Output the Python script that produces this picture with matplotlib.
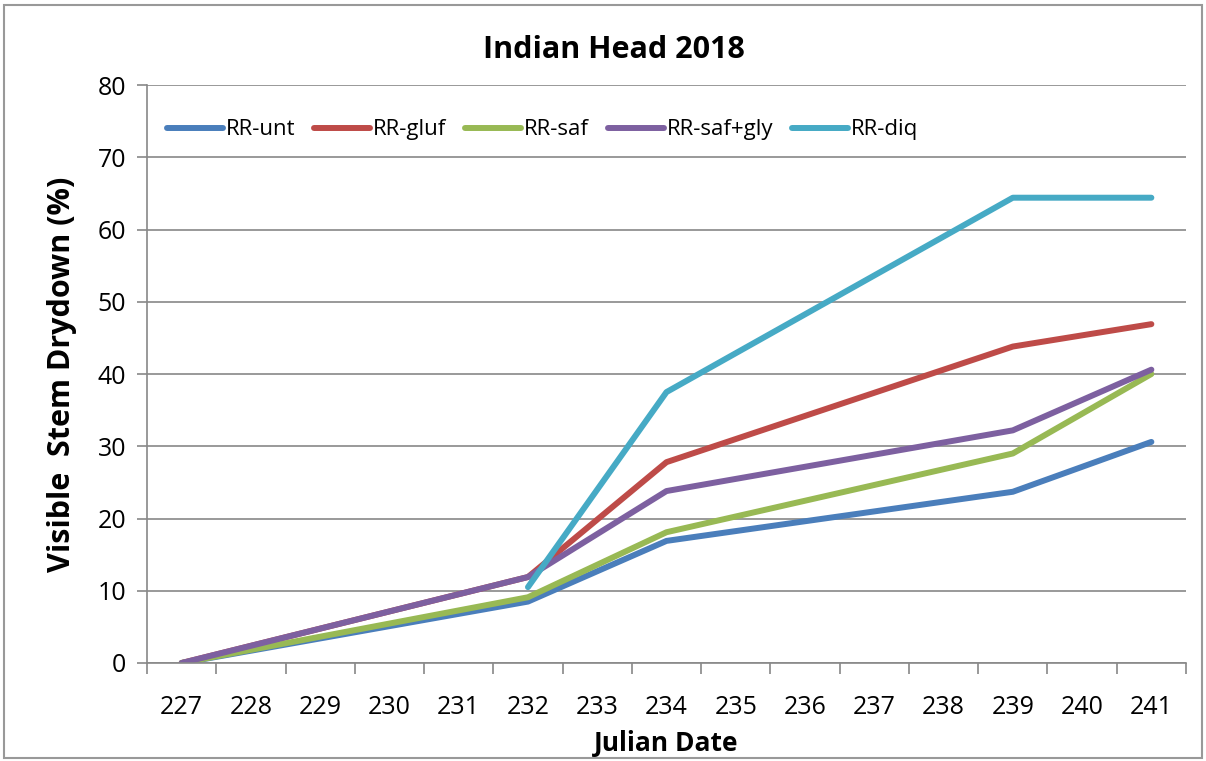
import matplotlib.pyplot as plt
from matplotlib.patches import Rectangle
import numpy as np

# Julian dates on the category axis
days = ['227', '228', '229', '230', '231', '232', '233', '234', '235',
        '236', '237', '238', '239', '240', '241']
# days where ratings were taken
rated_days = ['227', '232', '234', '239', '241']

rr_unt = [0, 8.5, 16.9, 23.7, 30.6]
rr_gluf = [0, 11.9, 27.8, 43.8, 46.9]
rr_saf = [0, 9.1, 18.1, 29.0, 40.0]
rr_saf_gly = [0, 11.9, 23.8, 32.2, 40.6]
rr_diq = [None, 10.5, 37.5, 64.4, 64.4]

series = [
    ('RR-unt', rr_unt, '#4A7EBB'),
    ('RR-gluf', rr_gluf, '#BE4B48'),
    ('RR-saf', rr_saf, '#98B954'),
    ('RR-saf+gly', rr_saf_gly, '#7D60A0'),
    ('RR-diq', rr_diq, '#46AAC5'),
]

plt.rcParams['font.family'] = ['Open Sans', 'DejaVu Sans']

fig = plt.figure(figsize=(12.06, 7.61), dpi=100)
ax = fig.add_axes([147 / 1206, 1 - 663 / 761, (1186 - 147) / 1206, (663 - 85) / 761])

pos = {d: i for i, d in enumerate(days)}
for name, vals, col in series:
    xs = [pos[d] for d, v in zip(rated_days, vals) if v is not None]
    ys = [v for v in vals if v is not None]
    ax.plot(xs, ys, color=col, lw=4.3, label=name, solid_capstyle='round',
            solid_joinstyle='round')

ax.set_xlim(-0.5, len(days) - 0.5)
ax.set_ylim(0, 80)
ax.set_yticks(range(0, 81, 10))
ax.set_xticks(range(len(days)))
ax.set_xticklabels(days)
ax.set_xticks(np.arange(-0.5, len(days), 1), minor=True)
ax.tick_params(axis='x', which='major', length=0, labelsize=18, pad=23)
ax.tick_params(axis='x', which='minor', length=8, color='#888888', width=1.2)
ax.tick_params(axis='y', length=7, color='#888888', width=1.2, labelsize=18, pad=8)

ax.grid(axis='y', color='#888888', lw=1.2)
ax.set_axisbelow(True)
for s in ['top', 'right']:
    ax.spines[s].set_visible(False)
for s in ['left', 'bottom']:
    ax.spines[s].set_color('#888888')
    ax.spines[s].set_linewidth(1.2)

fig.text(614 / 1206, 1 - 50 / 761, 'Indian Head 2018', fontsize=22,
         fontweight='bold', ha='center', va='center')
ax.set_xlabel('Julian Date', fontsize=19, fontweight='bold', labelpad=7)
ax.set_ylabel('Visible  Stem Drydown (%)', fontsize=22, fontweight='bold', labelpad=15)

ax.legend(loc='upper left', bbox_to_anchor=(0.0, 0.975), ncol=5, frameon=False,
          fontsize=16, handlelength=2.5, handletextpad=0.15, columnspacing=0.85)

# chart border
fig.patches.append(Rectangle((4 / 1206, 3 / 761), 1198 / 1206, 753 / 761,
                             transform=fig.transFigure, fill=False,
                             edgecolor='#999999', lw=1.5))

fig.savefig('out.png', dpi=100)
